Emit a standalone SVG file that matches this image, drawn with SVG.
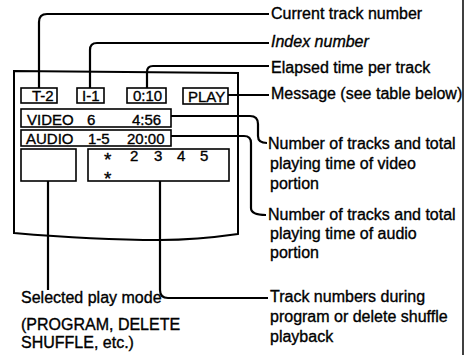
<svg xmlns="http://www.w3.org/2000/svg" width="466" height="355" viewBox="0 0 466 355">
<style>
text{font-family:"Liberation Sans",Arial,sans-serif;fill:#000;stroke:#000;stroke-width:0.35}
.lbl{font-size:16px}
.it{font-style:italic}
.disp{font-size:15px}
.star{font-size:19px}
.box{fill:none;stroke:#000;stroke-width:1.6}
.con{fill:none;stroke:#000;stroke-width:2.2;stroke-linecap:butt}
.outline{fill:none;stroke:#000;stroke-width:2}
</style>
<rect width="466" height="355" fill="#fff"/>
<line x1="463" y1="0" x2="463" y2="355" stroke="#000" stroke-width="1.5"/>

<g id="display">
<path class="outline" d="M14,71 L238,73 L238,234 C210,238 185,240 160,240 C110,240 60,237 14,233 Z"/>
</g>

<g id="track-box">
<rect class="box" x="21" y="88" width="36" height="15"/>
<text class="disp" x="32" y="101">T-2</text>
</g>
<g id="index-box">
<rect class="box" x="77" y="88" width="27" height="15"/>
<text class="disp" x="82" y="101">I-1</text>
</g>
<g id="time-box">
<rect class="box" x="127" y="88" width="39" height="15"/>
<text class="disp" x="133" y="101">0:10</text>
</g>
<g id="play-box">
<rect class="box" x="183" y="88" width="45" height="16"/>
<text class="disp" x="188" y="102">PLAY</text>
</g>
<g id="video-row">
<rect class="box" x="21" y="109" width="150" height="18"/>
<text class="disp" x="27" y="125">VIDEO</text>
<text class="disp" x="87" y="125">6</text>
<text class="disp" x="132" y="125">4:56</text>
</g>
<g id="audio-row">
<rect class="box" x="21" y="130" width="150" height="16"/>
<text class="disp" x="26" y="144">AUDIO</text>
<text class="disp" x="88" y="144">1-5</text>
<text class="disp" x="127" y="144">20:00</text>
</g>
<g id="mode-box">
<rect class="box" x="21" y="149" width="55" height="32"/>
</g>
<g id="program-box">
<rect class="box" x="88" y="149" width="141" height="32"/>
<text class="star" x="104" y="166">*</text>
<text class="disp" x="130" y="161">2</text>
<text class="disp" x="154" y="161">3</text>
<text class="disp" x="177" y="161">4</text>
<text class="disp" x="200" y="161">5</text>
<text class="star" x="104" y="185">*</text>
</g>

<g id="connectors">
<path class="con" d="M39,88 V22 Q39,14 47,14 H269"/>
<path class="con" d="M90,88 V50 Q90,43 97,43 H269"/>
<path class="con" d="M147,88 V72 Q147,66 153,66 H269"/>
<path class="con" d="M228,95 H269"/>
<path class="con" d="M171,116 H250 Q258,116 258,124 V136 Q258,143 267,143"/>
<path class="con" d="M171,136 H244 Q251,136 251,143 V208 Q251,215 266,215"/>
<path class="con" d="M160,181 V290 Q160,298 168,298 H268"/>
<path class="con" d="M48,181 V290"/>
</g>

<g id="labels">
<text class="lbl" x="271" y="19">Current track number</text>
<text class="lbl it" x="271" y="47">Index number</text>
<text class="lbl" x="271" y="73">Elapsed time per track</text>
<text class="lbl" x="271" y="99">Message (see table below)</text>
<text class="lbl" x="268" y="149">Number of tracks and total</text>
<text class="lbl" x="270" y="169">playing time of video</text>
<text class="lbl" x="270" y="189">portion</text>
<text class="lbl" x="268" y="220">Number of tracks and total</text>
<text class="lbl" x="270" y="239">playing time of audio</text>
<text class="lbl" x="270" y="258">portion</text>
<text class="lbl" x="270" y="302">Track numbers during</text>
<text class="lbl" x="270" y="322">program or delete shuffle</text>
<text class="lbl" x="270" y="342">playback</text>
<text class="lbl" x="21" y="303">Selected play mode</text>
<text class="lbl" x="21" y="330">(PROGRAM, DELETE</text>
<text class="lbl" x="21" y="348">SHUFFLE, etc.)</text>
</g>
</svg>
